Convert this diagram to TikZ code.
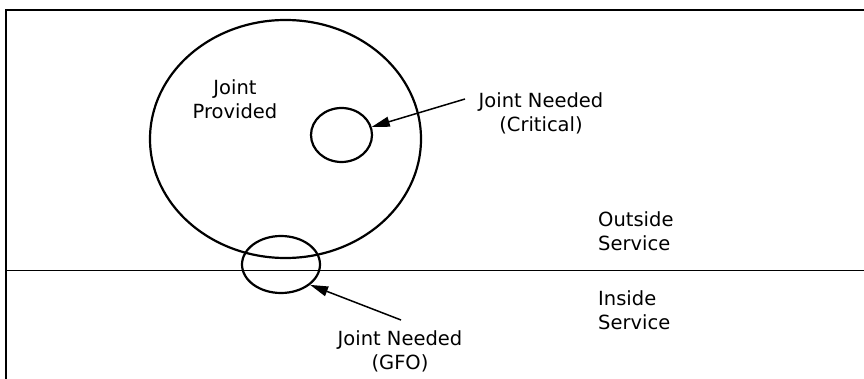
\documentclass[tikz,border=0pt]{standalone}
\usepackage{fontspec}
\setmainfont{DejaVu Sans}
\usetikzlibrary{shapes.geometric,arrows.meta}

\tikzset{
	ring/.style={draw, ellipse, line width=2.2pt, inner sep=0pt},
	label/.style={align=center, inner sep=0pt, font=\fontsize{19.5}{24}\selectfont},
	pointer/.style={line width=1.5pt, -{Triangle[length=18pt,width=10pt]}}
}

\begin{document}
\begin{tikzpicture}[x=1pt, y=-1pt]
	\useasboundingbox (0,0) rectangle (864,379);
	\draw [line width=2.2pt] (6,379) -- (6,10) -- (864,10);
	\draw [line width=1pt] (6,270) -- (864,270);

	\node [ring, minimum width=271pt, minimum height=238pt] (provided) at (285.5,139) {};
	\node [ring, minimum width=61pt, minimum height=54pt] (critical) at (341.5,135) {};
	\node [ring, minimum width=78pt, minimum height=57pt] (gfo) at (281,264.5) {};

	\node [label] (providedlabel) at (235,99) {Joint\\Provided};
	\node [label] (criticallabel) at (541,113) {Joint Needed\\(Critical)};
	\node [label] (gfolabel) at (400,351.5) {Joint Needed\\(GFO)};
	\node [label, anchor=west, align=left] (outside) at (598,231.5) {Outside\\Service};
	\node [label, anchor=west, align=left] (inside) at (598,310.5) {Inside\\Service};

	\coordinate (criticaltail) at (465,99);
	\coordinate (gfotail) at (401,320);
	\draw [pointer] (criticaltail) -- (critical.15);
	\draw [pointer] (gfotail) -- (gfo.-35);
\end{tikzpicture}
\end{document}
